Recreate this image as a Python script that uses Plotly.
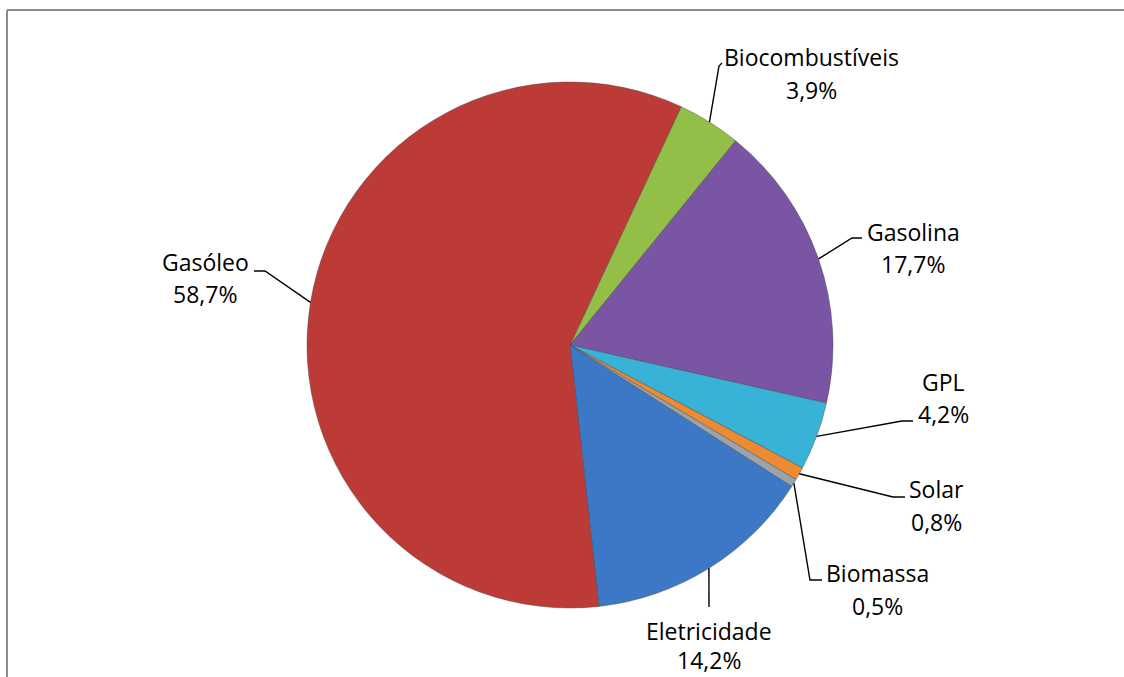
import math
import plotly.graph_objects as go

# Energy consumption shares by source (%)
categories = ["Biocombustíveis", "Gasolina", "GPL", "Solar", "Biomassa", "Eletricidade", "Gasóleo"]
shares = [3.9, 17.7, 4.2, 0.8, 0.5, 14.2, 58.7]
pct_labels = ["3,9%", "17,7%", "4,2%", "0,8%", "0,5%", "14,2%", "58,7%"]

colors = ["#93BE48", "#7A55A4", "#38B2D6", "#EE8A32", "#9BA3AD", "#3C78C6", "#BD3B36"]

W, H = 1124, 677
CX, CY, R = 570, 345, 263       # pie centre and radius in pixels
ROTATION = 25                   # start angle, degrees clockwise from 12 o'clock

# label layout (pixels): text centre x, name-line y, percent-line y
label_pos = [
    (811, 57, 90),
    (913, 232, 264),
    (943, 382, 414),
    (936, 489, 522),
    (877, 573, 606),
    (709, 631, 660),
    (205, 262, 294),
]
# leader line bend and end points (pixels)
leader_pts = [
    [(719, 66), (722, 63)],
    [(852, 238), (862, 238)],
    [(902, 421), (913, 421)],
    [(893, 497), (905, 497)],
    [(810, 580), (822, 580)],
    [(709, 607)],
    [(265, 271), (254, 271)],
]


def px(x):
    return x / W


def py(y):
    return 1 - y / H


fig = go.Figure(
    go.Pie(
        labels=categories,
        values=shares,
        sort=False,
        direction="clockwise",
        rotation=ROTATION,
        textinfo="none",
        hoverinfo="label+percent",
        marker=dict(colors=colors, line=dict(color="rgba(70,70,70,0.55)", width=0.8)),
        domain=dict(x=[px(CX - R), px(CX + R)], y=[py(CY + R), py(CY - R)]),
        showlegend=False,
    )
)

shapes = []
annotations = []
total = sum(shares)
cum = 0.0
for name, val, pct, (tx, ny, pyv), pts in zip(categories, shares, pct_labels, label_pos, leader_pts):
    mid = math.radians(ROTATION + (cum + val / 2) / total * 360)
    cum += val
    ax = CX + R * math.sin(mid)
    ay = CY - R * math.cos(mid)
    path = f"M {px(ax)},{py(ay)}"
    for (x, y) in pts:
        path += f" L {px(x)},{py(y)}"
    shapes.append(dict(type="path", xref="paper", yref="paper", path=path,
                       line=dict(color="black", width=1.4)))
    for text, yy in ((name, ny), (pct, pyv)):
        annotations.append(dict(text=text, x=px(tx), y=py(yy), xref="paper", yref="paper",
                                xanchor="center", yanchor="middle", showarrow=False,
                                font=dict(size=23, color="black")))

# chart-area frame: only its left and top edges fall inside the view
frame = dict(color="#8C8C8C", width=2)
shapes.append(dict(type="line", xref="paper", yref="paper",
                   x0=px(7), y0=py(10), x1=px(7), y1=0, line=frame))
shapes.append(dict(type="line", xref="paper", yref="paper",
                   x0=px(7), y0=py(10), x1=1, y1=py(10), line=frame))

fig.update_layout(
    width=W, height=H,
    margin=dict(l=0, r=0, t=0, b=0),
    paper_bgcolor="white",
    font=dict(family="Open Sans, Calibri, sans-serif", color="black"),
    shapes=shapes,
    annotations=annotations,
)

fig.write_html("out.html")
